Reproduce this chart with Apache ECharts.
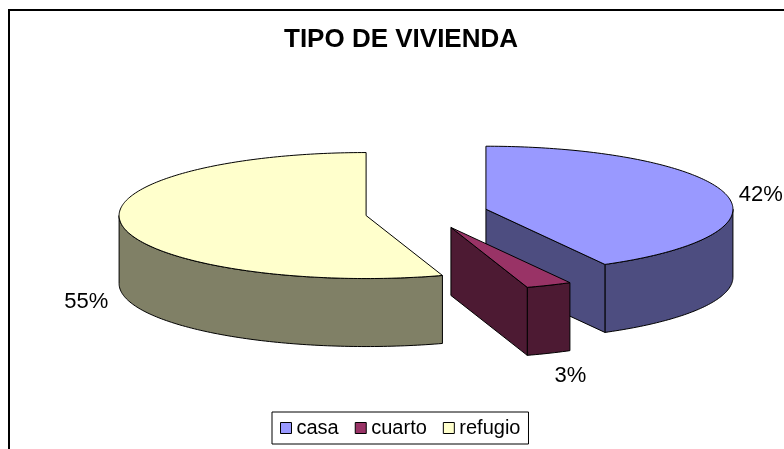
<!DOCTYPE html>
<html>
<head>
<meta charset="utf-8">
<script src="https://cdn.jsdelivr.net/npm/echarts@6/dist/echarts.min.js"></script>
<style>
html, body { margin: 0; padding: 0; background: #fff; }
#main { width: 784px; height: 449px; }
</style>
</head>
<body>
<div id="main"></div>
<script>
var myChart = echarts.init(document.getElementById('main'));

var categories = ['casa', 'cuarto', 'refugio'];
var values = [42, 3, 55];

var topColors = ['#9999ff', '#993366', '#ffffcc'];
var sideColors = ['#4d4d80', '#4d1a33', '#808066'];
var FONT = '"Liberation Sans", Arial, sans-serif';

// tilted pie layout (Excel-like 3D pie)
var pieCenter = [426.6, 213.1];
var radiusX = 247;
var radiusY = 63;
var depth = 68;
var explode = 0.248;

var total = values.reduce(function (a, b) { return a + b; }, 0);
var DEG = Math.PI / 180;

// start / end angle of each slice, degrees clockwise from 12 o'clock
var angles = [];
var acc = 0;
for (var i = 0; i < values.length; i++) {
    var a0 = acc / total * 360;
    acc += values[i];
    angles.push([a0, acc / total * 360]);
}

function rim(ax, ay, deg, dy) {
    return [ax + radiusX * Math.sin(deg * DEG), ay - radiusY * Math.cos(deg * DEG) + (dy || 0)];
}

function arcPoints(ax, ay, from, to, dy) {
    var pts = [];
    var n = Math.max(2, Math.ceil(Math.abs(to - from)));
    for (var k = 0; k <= n; k++) {
        pts.push(rim(ax, ay, from + (to - from) * k / n, dy));
    }
    return pts;
}

function edgeStyle(fill) {
    return {fill: fill, stroke: '#000', lineWidth: 1, lineJoin: 'round'};
}

var renderSlice = function (params, api) {
    var i = params.seriesIndex;
    var a0 = angles[i][0], a1 = angles[i][1];
    var mid = (a0 + a1) / 2;
    var s = Math.sin(mid * DEG), c = -Math.cos(mid * DEG);
    // exploded apex
    var ax = pieCenter[0] + explode * radiusX * s;
    var ay = pieCenter[1] + explode * radiusY * c;
    var children = [];

    // outer wall, only the front half is seen
    var w0 = Math.max(a0, 90), w1 = Math.min(a1, 270);
    if (w1 > w0) {
        var wall = arcPoints(ax, ay, w0, w1).concat(arcPoints(ax, ay, w1, w0, depth));
        children.push({type: 'polygon', shape: {points: wall}, style: edgeStyle(sideColors[i])});
    }
    // cut faces facing the viewer
    var face = function (deg) {
        var p = rim(ax, ay, deg);
        return {
            type: 'polygon',
            shape: {points: [[ax, ay], p, [p[0], p[1] + depth], [ax, ay + depth]]},
            style: edgeStyle(sideColors[i])
        };
    };
    if (Math.sin(a1 * DEG) > 1e-6) children.push(face(a1));
    if (-Math.sin(a0 * DEG) > 1e-6) children.push(face(a0));

    // top face
    var top = [[ax, ay]].concat(arcPoints(ax, ay, a0, a1));
    children.push({type: 'polygon', shape: {points: top}, style: edgeStyle(topColors[i])});

    // percent label outside the slice
    var lx = ax + s * (radiusX + 14);
    var ly = ay + c * (radiusY + 18) + (c > 0 ? depth : 0) + 6;
    children.push({
        type: 'text',
        x: lx,
        y: ly,
        style: {
            text: Math.round(values[i] / total * 100) + '%',
            fill: '#000',
            fontSize: 22,
            fontFamily: FONT,
            align: s >= 0 ? 'left' : 'right',
            verticalAlign: 'middle'
        }
    });
    return {type: 'group', children: children};
};

option = {
    backgroundColor: '#fff',
    animation: false,
    title: {
        text: 'TIPO DE VIVIENDA',
        left: 279,
        top: 22,
        textStyle: {
            fontSize: 26,
            fontWeight: 'bold',
            fontFamily: FONT,
            color: '#000'
        }
    },
    legend: {
        data: categories,
        left: 272,
        top: 412,
        padding: [6, 8],
        itemGap: 16,
        itemWidth: 11,
        itemHeight: 11,
        icon: 'rect',
        borderColor: '#000',
        borderWidth: 1,
        itemStyle: {
            borderColor: '#000',
            borderWidth: 1
        },
        textStyle: {
            fontSize: 20,
            fontFamily: FONT,
            color: '#000'
        }
    },
    graphic: [{
        type: 'rect',
        z: -10,
        shape: {x: 9, y: 10, width: 900, height: 600},
        style: {fill: 'none', stroke: '#000', lineWidth: 2}
    }],
    series: categories.map(function (name, i) {
        return {
            type: 'custom',
            name: name,
            coordinateSystem: 'none',
            renderItem: renderSlice,
            data: [values[i]],
            itemStyle: {color: topColors[i]},
            silent: true
        };
    })
};

myChart.setOption(option);
</script>
</body>
</html>
